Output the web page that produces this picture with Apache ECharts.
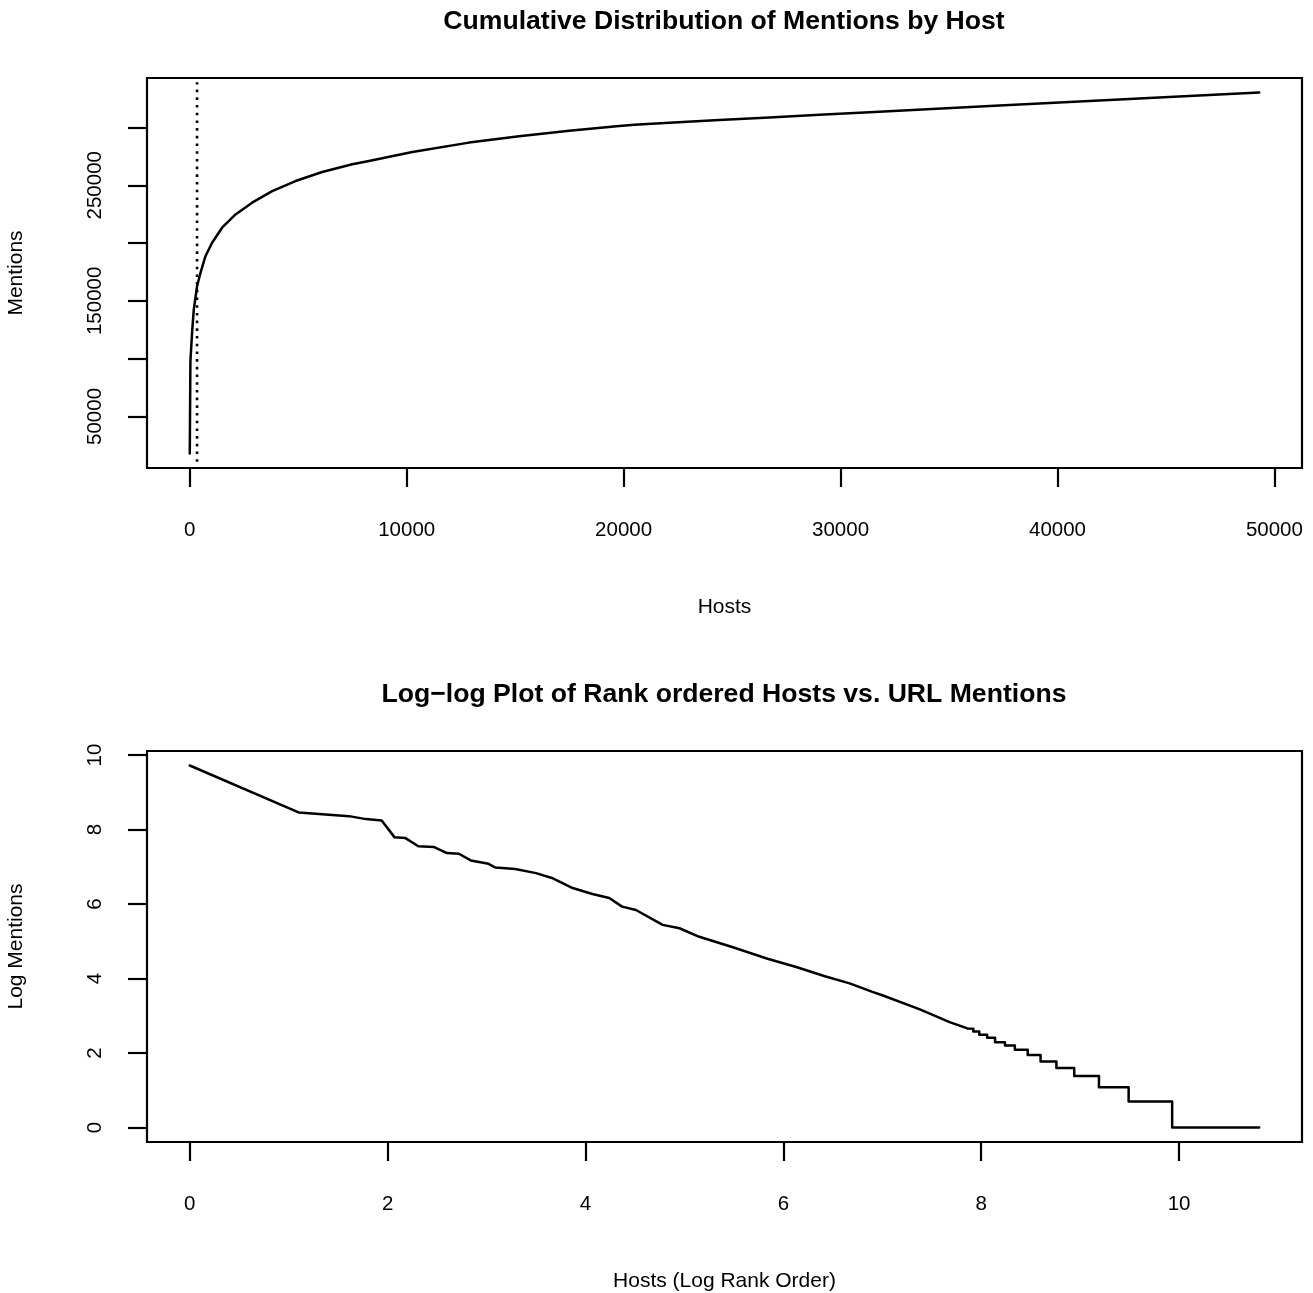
<!DOCTYPE html>
<html>
<head>
<meta charset="utf-8">
<script src="https://cdn.jsdelivr.net/npm/echarts@6/dist/echarts.min.js"></script>
<style>
  html, body { margin: 0; padding: 0; background: #fff; }
  #chart { width: 1313px; height: 1293px; }
</style>
</head>
<body>
<div id="chart"></div>
<script>
// Cumulative mentions against number of hosts (hosts ranked by mentions, most first)
const cumHosts = [1, 30, 106, 185, 337, 494, 724, 1029, 1490, 2109, 2875, 3798, 4877, 6105, 7490,
  8260, 10260, 12875, 15180, 17490, 19800, 20500, 22100, 24410, 26720, 29030, 31330, 37330, 43300, 49300];
const cumMentions = [17900, 97660, 122300, 142460, 162650, 174260, 188650, 200260, 213260, 224780,
  234920, 244970, 253640, 261440, 268110, 270970, 278770, 286900, 292500, 297200, 301300, 302400,
  304100, 306400, 308700, 311000, 313200, 318900, 324600, 330300];

// Host cut-off marked with a dotted rule, and the mention span it covers
const cutoffHost = 337;
const cutoffSpan = [10750, 339170];

// Natural-log rank vs natural-log mentions per host
const logRank = [0, 1.10, 1.61, 1.78, 1.94, 2.07, 2.18, 2.31, 2.47, 2.60, 2.72, 2.84, 3.02, 3.09,
  3.29, 3.50, 3.66, 3.87, 4.07, 4.24, 4.37, 4.51, 4.78, 4.95, 5.15, 5.49, 5.84, 6.13, 6.42, 6.67,
  6.90, 7.00, 7.38, 7.68, 7.86, 7.92, 7.92, 7.98, 7.98, 8.06, 8.06, 8.14, 8.14, 8.24, 8.24, 8.34,
  8.34, 8.47, 8.47, 8.60, 8.60, 8.76, 8.76, 8.94, 8.94, 9.19, 9.19, 9.49, 9.49, 9.93, 9.93, 10.81];
const logMentions = [9.72, 8.46, 8.36, 8.28, 8.24, 7.79, 7.77, 7.55, 7.53, 7.37, 7.35, 7.17, 7.08,
  6.98, 6.94, 6.83, 6.70, 6.43, 6.27, 6.16, 5.93, 5.84, 5.44, 5.35, 5.12, 4.84, 4.53, 4.31, 4.06,
  3.87, 3.64, 3.55, 3.17, 2.83, 2.66, 2.65, 2.58, 2.58, 2.49, 2.49, 2.41, 2.41, 2.29, 2.29, 2.20,
  2.20, 2.09, 2.09, 1.95, 1.95, 1.77, 1.77, 1.60, 1.60, 1.385, 1.385, 1.08, 1.08, 0.70, 0.70, 0, 0];

// Tick positions and which of them carry labels
const hostTicks = [0, 10000, 20000, 30000, 40000, 50000];
const mentionTicks = [50000, 100000, 150000, 200000, 250000, 300000];
const mentionLabels = [50000, 150000, 250000];
const logRankTicks = [0, 2, 4, 6, 8, 10];
const logMentionTicks = [0, 2, 4, 6, 8, 10];

// Axis extents: data range widened by 4% on each side
function paddedRange(values) {
  const lo = Math.min(...values), hi = Math.max(...values);
  const pad = (hi - lo) * 0.04;
  return [lo - pad, hi + pad];
}
const xTop = paddedRange(cumHosts);
const yTop = paddedRange(cumMentions);
const xBot = paddedRange(logRank);
const yBot = paddedRange(logMentions);

const FONT = '"Liberation Sans", Arial, Helvetica, sans-serif';
const INK = '#000';
const plain = v => String(Math.round(v * 1000) / 1000);

function xAxisCfg(gridIndex, range, ticks, name) {
  return {
    type: 'value', gridIndex, min: range[0], max: range[1],
    name, nameLocation: 'middle', nameGap: 129,
    nameTextStyle: { fontFamily: FONT, fontSize: 21, color: INK },
    axisLine: { show: false, onZero: false },
    axisTick: { show: true, inside: false, length: 19, customValues: ticks,
      lineStyle: { color: INK, width: 2.2 } },
    axisLabel: { show: true, margin: 52, customValues: ticks, formatter: plain,
      fontFamily: FONT, fontSize: 20.5, color: INK },
    splitLine: { show: false }
  };
}
function yAxisCfg(gridIndex, range, ticks, labels, name) {
  return {
    type: 'value', gridIndex, min: range[0], max: range[1],
    name, nameLocation: 'middle', nameGap: 120, nameRotate: 90,
    nameTextStyle: { fontFamily: FONT, fontSize: 21, color: INK },
    axisLine: { show: false, onZero: false },
    axisTick: { show: true, inside: false, length: 19, customValues: ticks,
      lineStyle: { color: INK, width: 2.2 } },
    axisLabel: { show: true, margin: 41, rotate: 90, customValues: labels, formatter: plain,
      fontFamily: FONT, fontSize: 20.5, color: INK },
    splitLine: { show: false }
  };
}

const chart = echarts.init(document.getElementById('chart'), null, { renderer: 'canvas' });
chart.setOption({
  animation: false,
  backgroundColor: '#fff',
  graphic: [
    { type: 'text', x: 724, y: 22, style: { text: 'Cumulative Distribution of Mentions by Host',
      fontFamily: FONT, fontSize: 26.6, fontWeight: 'bold', fill: INK,
      align: 'center', verticalAlign: 'middle' } },
    { type: 'text', x: 724, y: 695, style: { text: 'Log\u2212log Plot of Rank ordered Hosts vs. URL Mentions',
      fontFamily: FONT, fontSize: 26.6, fontWeight: 'bold', fill: INK,
      align: 'center', verticalAlign: 'middle' } }
  ],
  grid: [
    { left: 147, top: 78, width: 1155, height: 390, show: true, containLabel: false,
      outerBoundsMode: 'none',
      borderColor: INK, borderWidth: 2.2, backgroundColor: 'transparent' },
    { left: 147, top: 751, width: 1155, height: 391, show: true, containLabel: false,
      outerBoundsMode: 'none',
      borderColor: INK, borderWidth: 2.2, backgroundColor: 'transparent' }
  ],
  xAxis: [
    xAxisCfg(0, xTop, hostTicks, 'Hosts'),
    xAxisCfg(1, xBot, logRankTicks, 'Hosts (Log Rank Order)')
  ],
  yAxis: [
    yAxisCfg(0, yTop, mentionTicks, mentionLabels, 'Mentions'),
    yAxisCfg(1, yBot, logMentionTicks, logMentionTicks, 'Log Mentions')
  ],
  series: [
    {
      type: 'line', xAxisIndex: 0, yAxisIndex: 0,
      data: cumHosts.map((h, i) => [h, cumMentions[i]]),
      showSymbol: false, silent: true,
      lineStyle: { color: INK, width: 2.5, cap: 'round', join: 'round' }
    },
    {
      type: 'line', xAxisIndex: 0, yAxisIndex: 0,
      data: cutoffSpan.map(v => [cutoffHost, v]),
      showSymbol: false, silent: true,
      lineStyle: { color: INK, width: 2.6, type: [2.6, 5.1], cap: 'butt' }
    },
    {
      type: 'line', xAxisIndex: 1, yAxisIndex: 1,
      data: logRank.map((r, i) => [r, logMentions[i]]),
      showSymbol: false, silent: true,
      lineStyle: { color: INK, width: 2.5, cap: 'round', join: 'round' }
    }
  ]
});
</script>
</body>
</html>
